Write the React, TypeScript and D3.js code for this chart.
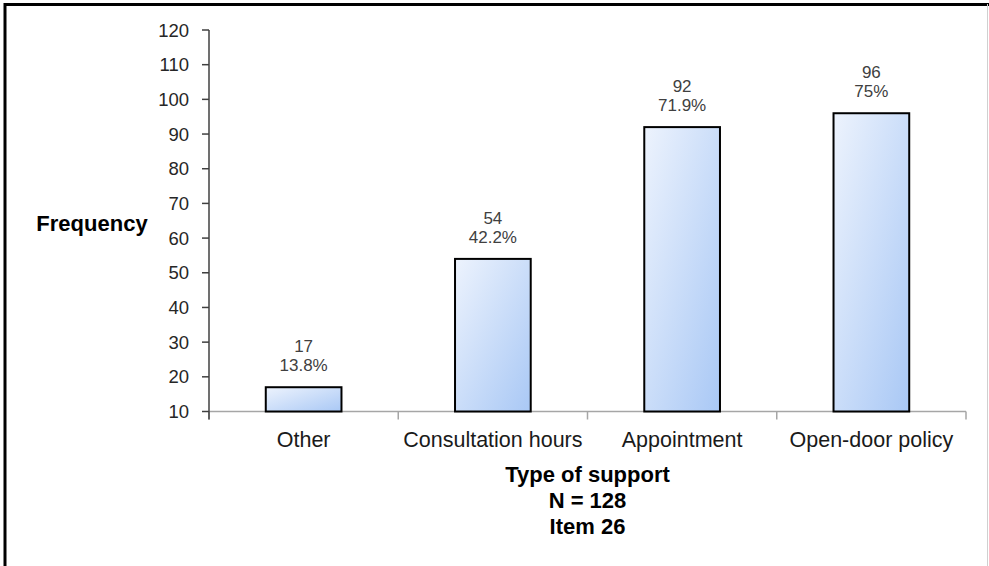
import React from "react";
import * as d3 from "d3";

const categories = ["Other", "Consultation hours", "Appointment", "Open-door policy"];
const frequencies = [17, 54, 92, 96];
const percentLabels = ["13.8%", "42.2%", "71.9%", "75%"];
const yTicks = [10, 20, 30, 40, 50, 60, 70, 80, 90, 100, 110, 120];
const titleLines = ["Type of support", "N = 128", "Item 26"];

const W = 989;
const H = 566;
const left = 209;
const right = 966;
const top = 30;
const bottom = 411.5;
const font = "'Liberation Sans', Arial, sans-serif";

export default function App() {
  const x = d3.scaleBand<string>().domain(categories).range([left, right]).paddingInner(0.6).paddingOuter(0.3);
  const xb = d3.scaleBand<string>().domain(categories).range([left, right]);
  const y = d3.scaleLinear().domain([10, 120]).range([bottom, top]);
  return (
    <svg width={W} height={H} style={{ position: "absolute", left: 0, top: 0, background: "#fff" }}>
      <defs>
        <linearGradient id="barGrad" x1="0" y1="0" x2="1" y2="1">
          <stop offset="0%" stopColor="#edf3fd" />
          <stop offset="100%" stopColor="#a9c8f5" />
        </linearGradient>
      </defs>
      {/* frame */}
      <line x1={5} y1={4.5} x2={W} y2={4.5} stroke="#000" strokeWidth={3} />
      <line x1={5} y1={3} x2={5} y2={H} stroke="#000" strokeWidth={3} />
      <line x1={987.5} y1={4} x2={987.5} y2={H} stroke="#d0d0d0" strokeWidth={1} />

      {/* x axis */}
      <line x1={left} y1={bottom} x2={right} y2={bottom} stroke="#a6a6a6" strokeWidth={1.5} />
      {categories.map((c, i) => (
        <line key={"xt" + i} x1={xb(c)!} x2={xb(c)!} y1={bottom} y2={bottom + 8} stroke="#a6a6a6" strokeWidth={1.5} />
      ))}
      <line x1={right} x2={right} y1={bottom} y2={bottom + 8} stroke="#a6a6a6" strokeWidth={1.5} />

      {/* bars */}
      {categories.map((c, i) => (
        <g key={"b" + i}>
          <rect
            x={x(c)!}
            y={y(frequencies[i])}
            width={x.bandwidth()}
            height={bottom - y(frequencies[i])}
            fill="url(#barGrad)"
            stroke="#000"
            strokeWidth={2}
          />
          <text x={x(c)! + x.bandwidth() / 2} y={y(frequencies[i]) - 35} textAnchor="middle" fontFamily={font} fontSize={17} fill="#404040">
            {frequencies[i]}
          </text>
          <text x={x(c)! + x.bandwidth() / 2} y={y(frequencies[i]) - 16} textAnchor="middle" fontFamily={font} fontSize={17} fill="#404040">
            {percentLabels[i]}
          </text>
          <text x={xb(c)! + xb.bandwidth() / 2} y={447} textAnchor="middle" fontFamily={font} fontSize={21.5} fill="#1a1a1a">
            {c}
          </text>
        </g>
      ))}

      {/* y axis */}
      <line x1={left} y1={top} x2={left} y2={bottom + 8} stroke="#404040" strokeWidth={1.5} />
      {yTicks.map((t) => (
        <g key={"yt" + t}>
          <line x1={left - 7} x2={left} y1={y(t)} y2={y(t)} stroke="#404040" strokeWidth={1.5} />
          <text x={189} y={y(t) + 6.5} textAnchor="end" fontFamily={font} fontSize={18.5} fill="#262626">
            {t}
          </text>
        </g>
      ))}

      <text x={92} y={231} textAnchor="middle" fontFamily={font} fontSize={22} fontWeight="bold" fill="#000">
        Frequency
      </text>
      {titleLines.map((l, i) => (
        <text key={"tl" + i} x={(left + right) / 2} y={482 + i * 26} textAnchor="middle" fontFamily={font} fontSize={22} fontWeight="bold" fill="#000">
          {l}
        </text>
      ))}
    </svg>
  );
}
